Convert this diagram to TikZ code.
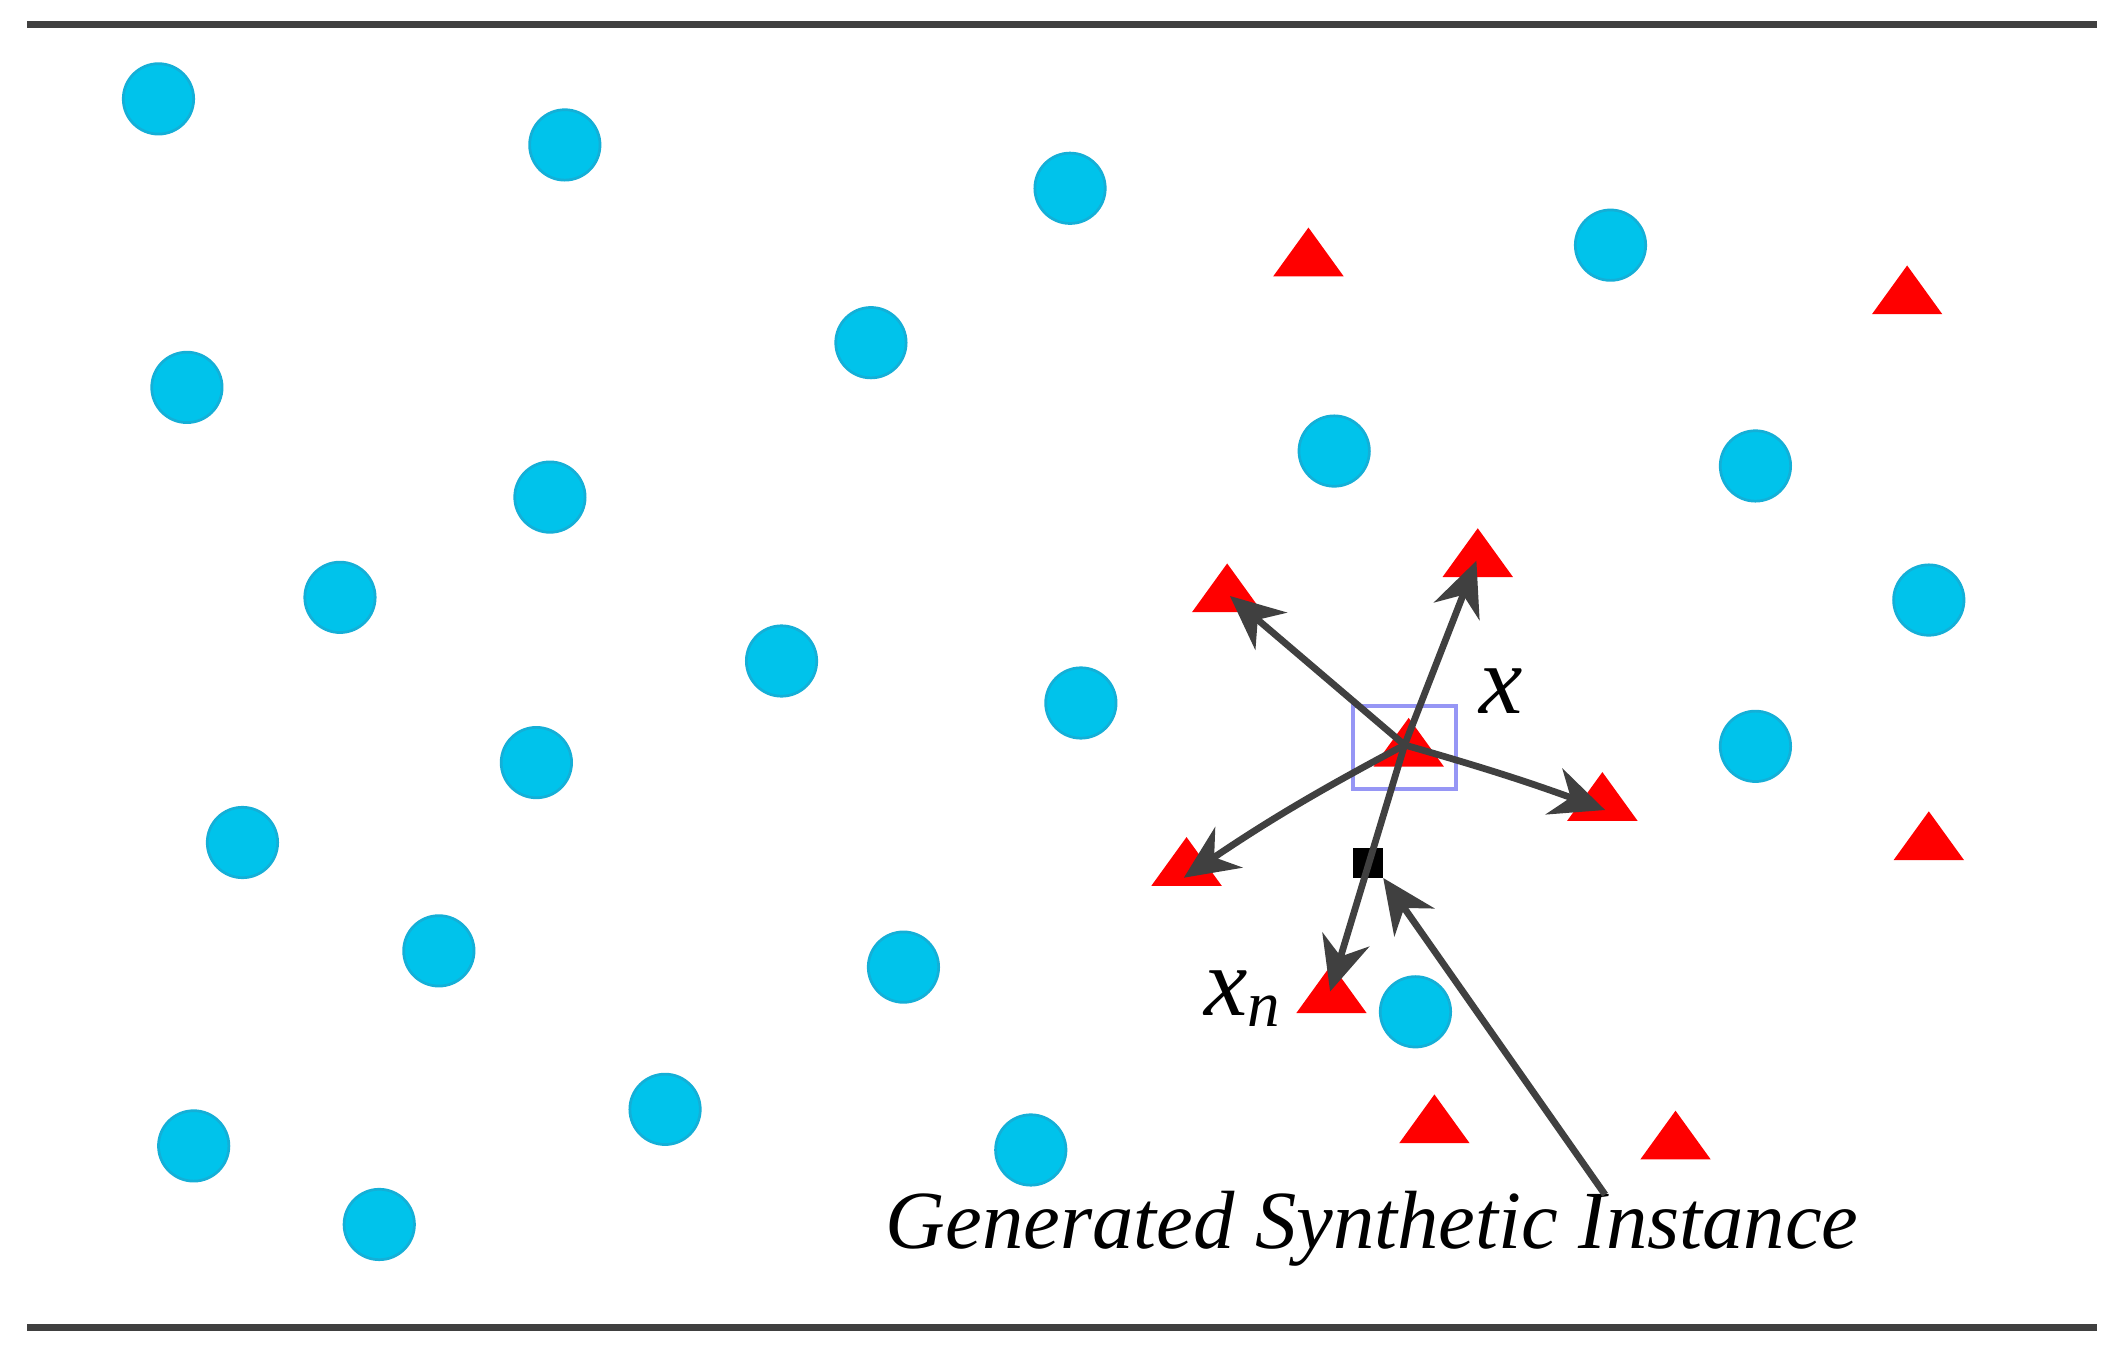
\documentclass[tikz,border=0pt]{standalone}
\usepackage{fontspec}
\setmainfont{Liberation Serif}
\usetikzlibrary{arrows.meta}
\definecolor{cy}{RGB}{0,195,235}
\definecolor{cyb}{RGB}{20,175,215}
\definecolor{rd}{RGB}{255,0,0}
\definecolor{ar}{RGB}{64,64,64}
\begin{document}
\begin{tikzpicture}[x=1pt,y=-1pt,
  pt/.style={circle,fill=cy,draw=cyb,line width=2pt,minimum size=52pt,inner sep=0pt},
  tri/.style={fill=rd},
  arr/.style={draw=ar,line width=5pt,-{Stealth[length=40pt,width=36pt]}},
  rule/.style={draw=ar,line width=5pt}]
\useasboundingbox (0,0) rectangle (1560,999);
\coordinate (l1) at (20,18); \coordinate (l2) at (1548,18);
\coordinate (l3) at (20,980); \coordinate (l4) at (1548,980);
\draw[rule] (l1) -- (l2); \draw[rule] (l3) -- (l4);
\foreach \x/\y [count=\i] in {117/73,417/107,790/139,1189/181,643/253,138/286,985/333,1296/344,406/367,251/441,1424/443,577/488,798/519,1296/551,396/563,179/622,324/702,667/714,1045/747,143/846,491/819,761/849,280/904}
  \node[pt] (c\i) at (\x,\y) {};
\foreach \x/\y [count=\i] in {966/190,1408/218,906/438,1091/412,1040/552,1183/592,876/640,1424/621,983/734,1059/830,1237/842}
  \fill[tri] (\x-26,\y+14) -- (\x,\y-22) -- (\x+26,\y+14) -- cycle;
\coordinate (ctr) at (1037,550);
\node[draw={rgb,255:red,150;green,150;blue,245},line width=3pt,minimum width=76pt,minimum height=61pt,inner sep=0pt] (box) at (1037,552) {};
\node[fill=black,minimum size=22pt,inner sep=0pt] (syn) at (1010,637) {};
\coordinate (a1) at (908,440); \coordinate (a2) at (1090,414);
\coordinate (a3) at (1185,598); \coordinate (a4) at (874,648);
\coordinate (a5) at (982,732);
\draw[arr] (ctr) -- (a1);
\draw[arr] (ctr) -- (a2);
\draw[arr] (ctr) to[bend left=2] (a3);
\draw[arr] (ctr) to[bend right=3] (a4);
\draw[arr] (ctr) -- (a5);
\node[font=\fontsize{61}{64}\selectfont\itshape,anchor=base] (lab) at (1013,922) {Generated Synthetic Instance};
\coordinate (ls) at (1185,882);
\draw[arr] (ls) -- (syn.south east);
\node[font=\fontsize{72}{76}\selectfont\itshape] (lx) at (1108,510) {x};
\node[font=\fontsize{72}{76}\selectfont\itshape] (lxn) at (917,737) {x\raisebox{-8pt}{\fontsize{48}{50}\selectfont n}};
\end{tikzpicture}
\end{document}
